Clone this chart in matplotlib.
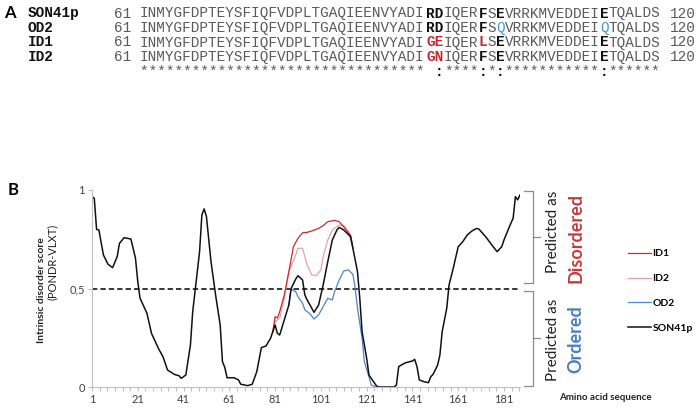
import matplotlib
matplotlib.use('Agg')
import matplotlib.pyplot as plt
from matplotlib.transforms import blended_transform_factory
from matplotlib.ticker import FixedLocator

# ---- panel A : alignment ----
seq_names = ['SON41p', 'OD2', 'ID1', 'ID2']
seqs = ['INMYGFDPTEYSFIQFVDPLTGAQIEENVYADIRDIQERFSEVRRKMVEDDEIETQALDS',
        'INMYGFDPTEYSFIQFVDPLTGAQIEENVYADIRDIQERFSQVRRKMVEDDEIQTQALDS',
        'INMYGFDPTEYSFIQFVDPLTGAQIEENVYADIGEIQERLSEVRRKMVEDDEIETQALDS',
        'INMYGFDPTEYSFIQFVDPLTGAQIEENVYADIGNIQERFSEVRRKMVEDDEIETQALDS']
# index in sequence -> highlight kind
marks = [{33: 'b', 34: 'b', 39: 'b', 41: 'b', 53: 'b'},
         {33: 'b', 34: 'b', 39: 'b', 41: 'q', 53: 'q'},
         {33: 'r', 34: 'r', 39: 'r', 41: 'b', 53: 'b'},
         {33: 'r', 34: 'r', 39: 'b', 41: 'b', 53: 'b'}]
consensus = '*' * 33 + ' :' + '****' + ':*:' + '*' * 11 + ':' + '*' * 6
seq_start, seq_end = '61', '120'

# ---- panel B : disorder scores ----
son_pos = [1, 2, 3, 4, 6, 8, 10, 12, 13, 15, 18, 20, 21, 22, 24, 25, 27, 28, 30, 32,
           34, 37, 39, 40, 42, 44, 45, 48, 49, 50, 51, 53, 55, 57, 58, 59, 60, 63, 65, 66,
           69, 71, 73, 75, 77, 79, 80, 81, 82, 83, 85, 87, 88, 90, 91, 93, 94, 95, 97, 98,
           100, 102, 104, 106, 108, 109, 111, 114, 115, 117, 118, 119, 121, 122, 125, 126,
           133, 134, 135, 136, 138, 141, 142, 143, 144, 146, 148, 149, 150, 152, 153, 154,
           156, 157, 159, 161, 163, 165, 167, 169, 170, 173, 176, 178, 180, 181, 182, 184,
           185, 186, 187, 188]
son_val = [0.966, 0.958, 0.80, 0.797, 0.67, 0.623, 0.606, 0.662, 0.729, 0.758, 0.751, 0.653,
           0.535, 0.45, 0.40, 0.374, 0.272, 0.247, 0.196, 0.154, 0.086, 0.064, 0.057, 0.044,
           0.061, 0.213, 0.382, 0.687, 0.873, 0.904, 0.865, 0.636, 0.467, 0.315, 0.128, 0.10,
           0.047, 0.047, 0.036, 0.014, 0.007, 0.014, 0.078, 0.20, 0.208, 0.247, 0.281, 0.315,
           0.272, 0.264, 0.34, 0.416, 0.50, 0.548, 0.565, 0.543, 0.467, 0.442, 0.40, 0.379,
           0.416, 0.518, 0.636, 0.746, 0.797, 0.81, 0.797, 0.763, 0.704, 0.585, 0.45, 0.281,
           0.146, 0.061, 0.01, 0.0, 0.0, 0.01, 0.103, 0.111, 0.123, 0.132, 0.14, 0.103, 0.036,
           0.027, 0.022, 0.052, 0.064, 0.111, 0.162, 0.281, 0.40, 0.518, 0.611, 0.712, 0.738,
           0.772, 0.792, 0.805, 0.802, 0.763, 0.716, 0.687, 0.712, 0.746, 0.775, 0.831, 0.856,
           0.966, 0.95, 0.975]

id1_pos = [80, 81, 82, 83, 85, 87, 89, 91, 93, 95, 97, 100, 102, 104, 107, 109, 111, 114, 115]
id1_val = [0.281, 0.357, 0.35, 0.382, 0.467, 0.585, 0.712, 0.755, 0.783, 0.785, 0.792, 0.805,
           0.819, 0.839, 0.846, 0.839, 0.813, 0.77, 0.704]

id2_pos = [80, 81, 83, 85, 87, 90, 91, 93, 94, 95, 97, 99, 101, 102, 104, 106, 109, 111, 113, 115]
id2_val = [0.281, 0.332, 0.349, 0.45, 0.585, 0.67, 0.704, 0.704, 0.662, 0.619, 0.569, 0.565,
           0.594, 0.662, 0.746, 0.797, 0.822, 0.819, 0.788, 0.704]

od2_pos = [87, 88, 89, 90, 91, 93, 94, 96, 98, 100, 102, 104, 106, 107, 109, 111, 113, 115,
           116, 117, 119, 120, 122, 123, 125, 126]
od2_val = [0.416, 0.50, 0.49, 0.484, 0.458, 0.425, 0.391, 0.374, 0.345, 0.366, 0.408, 0.45,
           0.442, 0.484, 0.543, 0.589, 0.594, 0.572, 0.50, 0.40, 0.247, 0.128, 0.052, 0.01,
           0.0, 0.0]

xtick_pos = [1, 21, 41, 61, 81, 101, 121, 141, 161, 181]
ytick_pos = [0, 0.5, 1]
ytick_lab = ['0', '0,5', '1']

W, H = 700, 408
fig = plt.figure(figsize=(7, 4.08), dpi=100)


def fx(x):
    return x / W


def fy(y):
    return 1 - y / H


sans = ['Lato', 'DejaVu Sans']
mono = ['Liberation Mono', 'DejaVu Sans Mono']
gray_txt = '#5a5a5a'
hl_col = {'b': ('#111111', 'bold'), 'r': ('#c8282d', 'bold'), 'q': ('#3a9ad9', 'normal'),
          'c': ('#111111', 'bold'), 'n': (gray_txt, 'normal')}


def draw_runs(s, kinds, x_start, base, fs):
    # group characters into runs of the same style, skip blanks
    i = 0
    while i < len(s):
        kind = kinds(i)
        j = i
        while j < len(s) and kinds(j) == kind:
            j += 1
        chunk = s[i:j]
        if chunk.strip():
            col, wt = hl_col[kind]
            fig.text(fx(x_start + i * cw), fy(base), chunk, family=mono, fontsize=fs,
                     color=col, fontweight=wt)
        i = j


# panel A
fig.text(fx(4), fy(13), 'A', fontsize=12, fontweight='bold', family=sans, va='center')
cw = 8.68
x0 = 140
fs = 10.4
bases = [17.5, 32, 46.5, 61]
for name, s, mk, b in zip(seq_names, seqs, marks, bases):
    fig.text(fx(28), fy(b), name, family=mono, fontweight='bold', fontsize=fs, color='#111111')
    fig.text(fx(x0 - 3 * cw), fy(b), seq_start, family=mono, fontsize=fs, color=gray_txt)
    draw_runs(s, lambda k, mk=mk: mk.get(k, 'n'), x0, b, fs)
    fig.text(fx(x0 + 61 * cw), fy(b), seq_end, family=mono, fontsize=fs, color=gray_txt)

draw_runs(consensus, lambda k: 'c' if consensus[k] == ':' else 'n', x0, 75.5, fs)

# panel B
fig.text(fx(8), fy(190), 'B', fontsize=12, fontweight='bold', family=sans, va='center')

ax = fig.add_axes([fx(92), 21 / H, 428 / W, 197 / H])
ax.set_xlim(1, 188)
ax.set_ylim(0, 1)
for sp in ['top', 'right']:
    ax.spines[sp].set_visible(False)
for sp in ['left', 'bottom']:
    ax.spines[sp].set_color('#bfbfbf')
    ax.spines[sp].set_linewidth(0.8)

ax.axhline(0.5, color='k', ls=(0, (3.5, 2)), lw=1.1)
l_od2, = ax.plot(od2_pos, od2_val, color='#4a86c8', lw=0.9)
l_id2, = ax.plot(id2_pos, id2_val, color='#eaa1a1', lw=0.9)
l_id1, = ax.plot(id1_pos, id1_val, color='#cc2a2a', lw=0.9)
l_son, = ax.plot(son_pos, son_val, color='#111111', lw=1.1)

ax.set_xticks(xtick_pos)
ax.xaxis.set_minor_locator(FixedLocator([1 + k * 10 / 3 for k in range(57)]))
ax.set_yticks(ytick_pos)
ax.set_yticklabels(ytick_lab)
ax.tick_params(which='both', length=3, color='#bfbfbf', width=0.8, labelsize=8,
               labelcolor='#404040', pad=2)
for lab in ax.get_xticklabels() + ax.get_yticklabels():
    lab.set_family(sans)

fig.text(fx(42), fy(290), 'Intrinsic disorder score', rotation=90, fontsize=7.5,
         fontweight='bold', family=sans, ha='center', va='center', color='#222222')
fig.text(fx(52), fy(262), '(PONDR-VLXT)', rotation=90, fontsize=8,
         family=sans, ha='center', va='center', color='#222222')

# brackets and side labels
tr = blended_transform_factory(fig.transFigure, ax.transData)
for top, mid, bot in [(0.996, 0.763, 0.528), (0.489, 0.249, 0.005)]:
    ax.plot([fx(524), fx(533), fx(533), fx(524)], [top, top, bot, bot], color='#8c8c8c',
            lw=0.9, transform=tr, clip_on=False)
    ax.plot([fx(533), fx(540)], [mid, mid], color='#8c8c8c', lw=0.9, transform=tr,
            clip_on=False)

ax.text(fx(553), 0.787, 'Predicted as', rotation=90, fontsize=11, family=sans,
        ha='center', va='center', transform=tr, color='#222222')
ax.text(fx(576), 0.756, 'Disordered', rotation=90, fontsize=13, family=sans,
        fontweight='bold', ha='center', va='center', transform=tr, color='#c43c3c')
ax.text(fx(553), 0.239, 'Predicted as', rotation=90, fontsize=11, family=sans,
        ha='center', va='center', transform=tr, color='#222222')
ax.text(fx(576), 0.244, 'Ordered', rotation=90, fontsize=13, family=sans,
        fontweight='bold', ha='center', va='center', transform=tr, color='#4a7ec0')

fig.legend([l_id1, l_id2, l_od2, l_son], ['ID1', 'ID2', 'OD2', 'SON41p'],
           loc='upper left', bbox_to_anchor=(fx(628), fy(249)), frameon=False,
           prop={'family': sans, 'weight': 'bold', 'size': 7.5},
           handlelength=2.2, handletextpad=0.15, labelspacing=1.5,
           borderpad=0, borderaxespad=0)

fig.text(fx(605), fy(398), 'Amino acid sequence', fontsize=7, fontweight='bold',
         family=sans, ha='center', va='center', color='#222222')

fig.savefig('out.png', dpi=100)
